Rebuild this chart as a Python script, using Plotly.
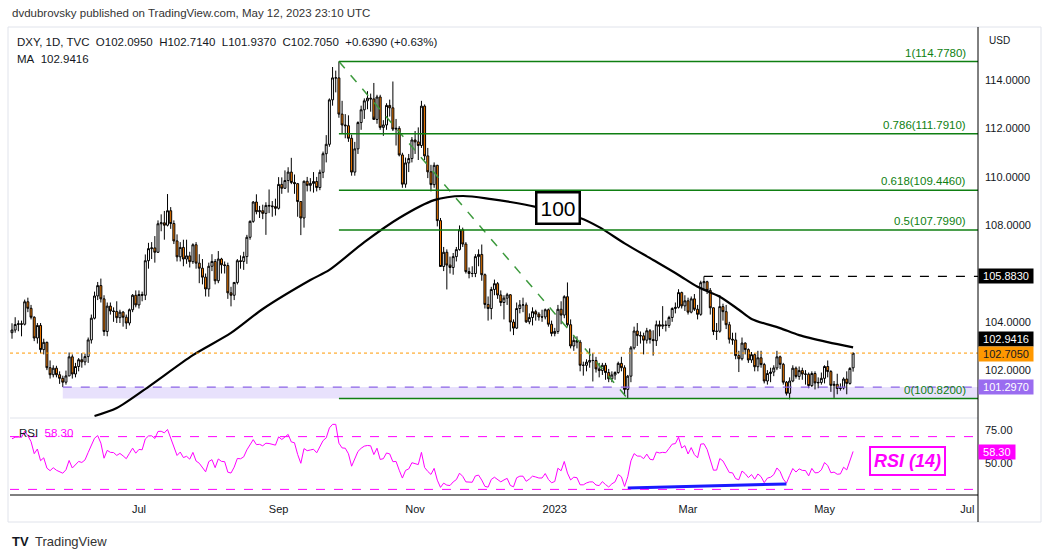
import plotly.graph_objects as go
import pandas as pd

# ---------------- DATA ----------------
# closes before the visible window, only used to warm up RSI(14)
pre_closes = [98.22, 98.49, 98.48, 98.62, 98.79, 98.80, 99.04, 98.41, 97.80, 98.31,
              98.62, 99.01, 99.48, 99.62, 99.80, 99.80, 99.93, 100.31, 99.84, 100.43,
              100.50, 100.94, 100.95, 100.37, 100.60, 101.12, 101.73, 102.35, 102.98, 103.76,
              103.17, 103.74, 103.46, 102.55, 103.58]

# daily candles per month: (open, high, low, close)
may22 = [(103.55, 103.94, 103.30, 103.66), (103.66, 104.19, 103.55, 103.89), (103.89, 104.06, 103.61, 103.92),
         (103.92, 104.05, 103.40, 103.90), (103.90, 104.92, 103.85, 104.83), (104.83, 105.00, 104.40, 104.56),
         (104.56, 104.70, 104.10, 104.19), (104.19, 104.23, 103.20, 103.33), (103.33, 103.95, 103.10, 103.85),
         (103.85, 103.95, 102.70, 102.85), (102.85, 103.30, 102.65, 103.15), (103.15, 103.18, 102.00, 102.10),
         (102.10, 102.40, 101.65, 101.81), (101.81, 102.20, 101.70, 102.08), (102.08, 102.18, 101.70, 101.81),
         (101.81, 101.95, 101.43, 101.66), (101.66, 101.77, 101.30, 101.50), (101.50, 101.98, 101.40, 101.76)]
jun22 = [(101.76, 102.73, 101.75, 102.55), (102.55, 102.65, 101.65, 101.84), (101.84, 102.30, 101.70, 102.15),
         (102.15, 102.50, 101.95, 102.43), (102.43, 102.70, 102.10, 102.34), (102.34, 102.68, 102.20, 102.56),
         (102.56, 103.35, 102.30, 103.25), (103.25, 104.30, 103.10, 104.15), (104.15, 105.25, 104.10, 105.07),
         (105.07, 105.65, 104.90, 105.50), (105.50, 105.79, 104.80, 104.95), (104.95, 105.10, 103.42, 103.60),
         (103.60, 104.80, 103.40, 104.65), (104.65, 104.80, 104.30, 104.45), (104.45, 104.60, 104.00, 104.43),
         (104.43, 104.85, 103.95, 104.17), (104.17, 104.50, 103.95, 104.40), (104.40, 104.45, 103.80, 104.19),
         (104.19, 104.30, 103.70, 103.95), (103.95, 104.55, 103.85, 104.50), (104.50, 105.15, 104.40, 105.10),
         (105.10, 105.30, 104.60, 104.70)]
jul22 = [(104.70, 105.30, 104.55, 105.13), (105.13, 105.25, 104.85, 105.10), (105.10, 106.79, 104.90, 106.53),
         (106.53, 107.27, 106.20, 107.03), (107.03, 107.30, 106.60, 107.06), (107.06, 107.55, 106.45, 106.88),
         (106.88, 108.20, 106.85, 108.06), (108.06, 108.45, 107.75, 108.10), (108.10, 108.59, 107.40, 108.00),
         (108.00, 109.29, 107.95, 108.60), (108.60, 108.75, 107.85, 108.07), (108.07, 108.20, 107.22, 107.35),
         (107.35, 107.62, 106.50, 106.69), (106.69, 107.30, 106.50, 107.08), (107.08, 107.40, 106.30, 106.60),
         (106.60, 107.40, 106.40, 106.73), (106.73, 106.90, 106.25, 106.49), (106.49, 107.25, 106.40, 107.19),
         (107.19, 107.30, 106.20, 106.43), (106.43, 106.80, 105.60, 106.22), (106.22, 106.60, 105.55, 105.85)]
aug22 = [(105.85, 106.00, 105.05, 105.36), (105.36, 106.45, 105.04, 106.30), (106.30, 106.80, 106.10, 106.50),
         (106.50, 106.60, 105.55, 105.70), (105.70, 106.93, 105.60, 106.60), (106.60, 106.65, 106.00, 106.36),
         (106.36, 106.50, 106.00, 106.33), (106.33, 106.45, 104.95, 105.20), (105.20, 105.45, 104.64, 105.10),
         (105.10, 105.65, 104.90, 105.63), (105.63, 106.60, 105.55, 106.53), (106.53, 106.75, 106.20, 106.50),
         (106.50, 106.90, 106.15, 106.70), (106.70, 107.60, 106.40, 107.50), (107.50, 108.20, 107.40, 108.16),
         (108.16, 109.00, 108.10, 108.96), (108.96, 109.28, 108.45, 108.56), (108.56, 108.80, 108.30, 108.60),
         (108.60, 108.85, 108.25, 108.49), (108.49, 108.95, 107.60, 108.82), (108.82, 109.48, 108.50, 108.80),
         (108.80, 109.00, 108.35, 108.77), (108.77, 109.10, 108.40, 108.70)]
sep22 = [(108.70, 109.99, 108.65, 109.69), (109.69, 109.98, 109.30, 109.53), (109.53, 110.27, 109.50, 109.85),
         (109.85, 110.40, 109.35, 110.20), (110.20, 110.79, 109.70, 109.77), (109.77, 110.10, 109.30, 109.72),
         (109.72, 109.75, 108.35, 108.98), (108.98, 109.00, 107.59, 108.30), (108.30, 109.85, 107.90, 109.82),
         (109.82, 110.00, 109.40, 109.65), (109.65, 109.95, 109.40, 109.73), (109.73, 110.20, 109.35, 109.81),
         (109.81, 110.00, 109.40, 109.56), (109.56, 110.30, 109.45, 110.19), (110.19, 111.05, 109.95, 110.96),
         (110.96, 111.73, 110.60, 111.35), (111.35, 113.25, 111.25, 113.19), (113.19, 114.55, 112.95, 114.10),
         (114.10, 114.40, 113.50, 114.10), (114.10, 114.78, 112.45, 112.60), (112.60, 113.15, 111.80, 112.15),
         (112.15, 112.60, 111.60, 112.12)]
oct22 = [(112.12, 112.55, 111.45, 111.60), (111.60, 111.75, 110.05, 110.20), (110.20, 111.45, 110.05, 111.16),
         (111.16, 112.30, 110.95, 112.25), (112.25, 112.95, 111.95, 112.78), (112.78, 113.25, 112.40, 113.15),
         (113.15, 113.55, 112.80, 113.26), (113.26, 113.45, 112.70, 113.23), (113.23, 113.89, 112.50, 112.38),
         (112.38, 113.40, 112.20, 113.31), (113.31, 113.40, 111.95, 112.05), (112.05, 112.35, 111.70, 112.15),
         (112.15, 113.05, 111.95, 112.96), (112.96, 113.20, 112.50, 112.86), (112.86, 113.95, 111.90, 111.98),
         (111.98, 112.40, 111.30, 112.01), (112.01, 112.10, 110.85, 110.91), (110.91, 111.00, 109.55, 109.70),
         (109.70, 110.80, 109.55, 110.58), (110.58, 110.95, 110.20, 110.76), (110.76, 111.65, 110.60, 111.53)]
nov22 = [(111.53, 111.90, 110.95, 111.45), (111.45, 112.05, 110.70, 111.30), (111.30, 113.15, 111.20, 112.93),
         (112.93, 113.00, 110.70, 110.87), (110.87, 111.20, 109.95, 110.21), (110.21, 110.50, 109.40, 109.68),
         (109.68, 110.60, 109.55, 110.48), (110.48, 110.50, 107.95, 108.19), (108.19, 108.30, 106.30, 106.29),
         (106.29, 107.10, 106.10, 106.88), (106.88, 107.00, 105.34, 106.35), (106.35, 106.70, 106.00, 106.25),
         (106.25, 106.85, 105.95, 106.70), (106.70, 107.10, 106.50, 106.99), (106.99, 107.99, 106.95, 107.81),
         (107.81, 107.90, 107.10, 107.22), (107.22, 107.30, 106.00, 106.08), (106.08, 106.25, 105.80, 106.00),
         (106.00, 106.30, 105.85, 106.00), (106.00, 106.80, 105.85, 106.70), (106.70, 107.00, 106.30, 106.79),
         (106.79, 107.20, 105.70, 105.95)]
dec22 = [(105.95, 106.00, 104.55, 104.72), (104.72, 105.05, 104.05, 104.55), (104.55, 105.45, 104.10, 105.34),
         (105.34, 105.75, 105.10, 105.58), (105.58, 105.65, 104.95, 105.11), (105.11, 105.30, 104.65, 104.80),
         (104.80, 105.10, 104.10, 104.98), (104.98, 105.20, 104.70, 105.12), (105.12, 105.15, 103.60, 103.99),
         (103.99, 104.10, 103.45, 103.74), (103.74, 104.80, 103.70, 104.55), (104.55, 104.90, 104.35, 104.70),
         (104.70, 105.00, 104.40, 104.70), (104.70, 104.80, 103.95, 104.00), (104.00, 104.35, 103.90, 104.18),
         (104.18, 104.60, 103.85, 104.42), (104.42, 104.50, 104.05, 104.32), (104.32, 104.40, 104.05, 104.20),
         (104.20, 104.50, 104.00, 104.20), (104.20, 104.55, 104.10, 104.50), (104.50, 104.55, 103.80, 103.90),
         (103.90, 104.05, 103.40, 103.52)]
jan23 = [(103.52, 103.75, 103.40, 103.60), (103.60, 104.70, 103.50, 104.52), (104.52, 104.85, 103.90, 104.28),
         (104.28, 105.10, 104.15, 105.04), (105.04, 105.63, 103.80, 103.88), (103.88, 104.10, 102.90, 103.00),
         (103.00, 103.40, 102.80, 103.23), (103.23, 103.40, 102.90, 103.16), (103.16, 103.25, 101.95, 102.20),
         (102.20, 102.35, 101.77, 102.20), (102.20, 102.45, 101.95, 102.33), (102.33, 102.90, 102.10, 102.40),
         (102.40, 102.70, 101.53, 102.40), (102.40, 102.55, 101.90, 102.05), (102.05, 102.30, 101.70, 101.98),
         (101.98, 102.30, 101.80, 102.20), (102.20, 102.30, 101.60, 101.90), (101.90, 102.05, 101.50, 101.64),
         (101.64, 101.95, 101.50, 101.80), (101.80, 101.95, 101.60, 101.90), (101.90, 102.35, 101.85, 102.28),
         (102.28, 102.55, 101.95, 102.10)]
feb23 = [(102.10, 102.20, 100.95, 101.20), (101.20, 101.80, 100.82, 101.75), (101.75, 103.00, 101.50, 102.92),
         (102.92, 103.80, 102.85, 103.62), (103.62, 103.95, 103.00, 103.43), (103.43, 103.60, 103.10, 103.42),
         (103.42, 103.55, 102.65, 103.24), (103.24, 103.75, 103.10, 103.63), (103.63, 103.70, 103.10, 103.27),
         (103.27, 103.65, 102.60, 103.22), (103.22, 104.05, 103.00, 103.88), (103.88, 104.05, 103.40, 103.82),
         (103.82, 104.65, 103.70, 103.87), (103.87, 104.05, 103.60, 103.85), (103.85, 104.25, 103.75, 104.18),
         (104.18, 104.60, 104.00, 104.55), (104.55, 104.80, 104.35, 104.60), (104.60, 105.35, 104.55, 105.21),
         (105.21, 105.25, 104.55, 104.66), (104.66, 105.10, 104.45, 104.87)]
mar23 = [(104.87, 105.00, 104.30, 104.40), (104.40, 105.05, 104.35, 104.95), (104.95, 105.15, 104.45, 104.52),
         (104.52, 104.70, 104.10, 104.31), (104.31, 105.70, 104.25, 105.62), (105.62, 105.88, 105.30, 105.66),
         (105.66, 105.70, 105.15, 105.30), (105.30, 105.40, 104.30, 104.58), (104.58, 104.60, 103.45, 103.60),
         (103.60, 103.95, 103.25, 103.61), (103.61, 105.11, 103.55, 104.63), (104.63, 104.75, 104.05, 104.42),
         (104.42, 104.70, 103.70, 103.88), (103.88, 104.00, 103.10, 103.28), (103.28, 103.55, 103.05, 103.25),
         (103.25, 103.55, 102.45, 102.60), (102.60, 102.80, 101.92, 102.47), (102.47, 103.35, 102.40, 103.12),
         (103.12, 103.15, 102.65, 102.85), (102.85, 102.90, 102.30, 102.42), (102.42, 102.75, 102.30, 102.64),
         (102.64, 102.70, 101.95, 102.14), (102.14, 102.80, 101.95, 102.51)]
apr23 = [(102.51, 102.80, 102.10, 102.23), (102.23, 102.30, 101.45, 101.55), (101.55, 102.00, 101.40, 101.86),
         (101.86, 102.10, 101.50, 101.92), (101.92, 102.20, 101.75, 102.09), (102.09, 102.80, 102.00, 102.55),
         (102.55, 102.60, 102.05, 102.24), (102.24, 102.30, 101.40, 101.50), (101.50, 101.55, 100.95, 101.04),
         (101.04, 101.70, 100.79, 101.55), (101.55, 102.20, 101.50, 102.08), (102.08, 102.15, 101.65, 101.74),
         (101.74, 102.15, 101.60, 101.98), (101.98, 102.10, 101.60, 101.84), (101.84, 102.00, 101.40, 101.83),
         (101.83, 101.90, 101.25, 101.36), (101.36, 101.95, 101.30, 101.86), (101.86, 101.95, 101.20, 101.47),
         (101.47, 101.70, 101.25, 101.49), (101.49, 101.90, 101.40, 101.66)]
may23 = [(101.66, 102.20, 101.45, 102.15), (102.15, 102.40, 101.70, 101.94), (101.94, 102.00, 101.10, 101.37),
         (101.37, 101.55, 100.85, 101.41), (101.41, 101.85, 101.00, 101.24), (101.24, 101.45, 101.15, 101.26),
         (101.26, 101.70, 101.20, 101.63), (101.63, 101.95, 101.00, 101.45), (101.45, 102.12, 101.40, 102.07),
         (102.095, 102.714, 101.937, 102.705)]

month_starts = ["2022-05-06", "2022-06-01", "2022-07-01", "2022-08-01", "2022-09-01", "2022-10-03",
                "2022-11-01", "2022-12-01", "2023-01-02", "2023-02-01", "2023-03-01", "2023-04-03",
                "2023-05-01"]
month_rows = [may22, jun22, jul22, aug22, sep22, oct22, nov22, dec22, jan23, feb23, mar23, apr23, may23]

# 100-day moving average
ma_dates = ["2022-06-13", "2022-06-22", "2022-07-06", "2022-07-26", "2022-08-11", "2022-08-25",
            "2022-09-15", "2022-09-23", "2022-10-10", "2022-10-25", "2022-11-09", "2022-11-22",
            "2022-12-05", "2022-12-13", "2022-12-23", "2023-01-12", "2023-01-20", "2023-02-01",
            "2023-02-14", "2023-02-24", "2023-03-06", "2023-03-15", "2023-03-23", "2023-03-29",
            "2023-04-11", "2023-04-19", "2023-05-02", "2023-05-12"]
ma_vals = [100.10, 100.43, 101.31, 102.62, 103.54, 104.53,
           105.73, 106.15, 107.30, 108.30, 109.04, 109.21,
           109.08, 108.96, 108.76, 108.30, 107.92, 107.25,
           106.56, 105.94, 105.45, 105.04, 104.50, 104.12,
           103.74, 103.45, 103.16, 102.9416]

fib_ratios = [1, 0.786, 0.618, 0.5, 0]
fib_levels = [114.778, 111.791, 109.446, 107.799, 100.820]
fib_start = "2022-09-28"
swing_high = ("2022-09-28", 114.778)
swing_low = ("2023-02-02", 100.820)

support_level = 101.297
support_start = "2022-05-30"
resistance_level = 105.883
resistance_start = "2023-03-08"
last_price = 102.705
ma_last = 102.9416
rsi_last = 58.30

rsi_div_dates = ["2023-02-02", "2023-04-13"]
rsi_div_vals = [31.1, 34.1]

tick_dates = ["2022-07-01", "2022-09-01", "2022-11-01", "2023-01-02", "2023-03-01", "2023-05-01", "2023-07-03"]
tick_text = ["Jul", "Sep", "Nov", "2023", "Mar", "May", "Jul"]
price_ticks = [102, 104, 108, 110, 112, 114]
rsi_ticks = [75, 50]

# ---------------- BUILD ----------------
HALF = pd.Timedelta(hours=12)   # centre each daily bar inside its weekday slot


def d(s):
    return pd.Timestamp(s) + HALF


dates, O, H, L, C = [], [], [], [], []
for start, rows in zip(month_starts, month_rows):
    ds = pd.bdate_range(start, periods=len(rows))
    for dt, (o, h, l, c) in zip(ds, rows):
        dates.append(dt + HALF)
        O.append(o); H.append(h); L.append(l); C.append(c)


def wilder_rsi(vals, n=14):
    out = [None] * len(vals)
    gains = [max(vals[i] - vals[i - 1], 0) for i in range(1, len(vals))]
    losses = [max(vals[i - 1] - vals[i], 0) for i in range(1, len(vals))]
    ag = sum(gains[:n]) / n
    al = sum(losses[:n]) / n
    out[n] = 100 - 100 / (1 + ag / al) if al > 0 else 100
    for i in range(n + 1, len(vals)):
        ag = (ag * (n - 1) + gains[i - 1]) / n
        al = (al * (n - 1) + losses[i - 1]) / n
        out[i] = 100 - 100 / (1 + ag / al) if al > 0 else 100
    return out


rsi = wilder_rsi(pre_closes + C)[len(pre_closes):]

FONT = "Liberation Sans, Arial, sans-serif"
TXT = "#131722"
GREEN = "#0f7f12"
MAG = "#ff00ff"
ORANGE = "#ff9800"
PURPLE = "#9a6cf0"

X0 = "2022-05-05 20:53:00"
X1 = "2023-07-06 20:24:00"

fig = go.Figure()
fig.add_trace(go.Candlestick(
    x=dates, open=O, high=H, low=L, close=C, xaxis="x", yaxis="y",
    increasing=dict(line=dict(color="black", width=1), fillcolor="white"),
    decreasing=dict(line=dict(color="black", width=1), fillcolor="#ff8000"),
    whiskerwidth=0, hoverinfo="skip"))
fig.add_trace(go.Scatter(
    x=[d(s) for s in ma_dates], y=ma_vals, mode="lines", xaxis="x", yaxis="y",
    line=dict(color="black", width=2.2, shape="spline", smoothing=0.8), hoverinfo="skip"))
fig.add_trace(go.Scatter(
    x=[d(swing_high[0]), d(swing_low[0])], y=[swing_high[1], swing_low[1]], mode="lines",
    xaxis="x", yaxis="y", line=dict(color="#3d9a3d", width=1.5, dash="dash"), hoverinfo="skip"))
fig.add_trace(go.Scatter(
    x=dates, y=rsi, mode="lines", xaxis="x", yaxis="y2",
    line=dict(color=MAG, width=1), hoverinfo="skip"))
fig.add_trace(go.Scatter(
    x=[d(s) for s in rsi_div_dates], y=rsi_div_vals, mode="lines", xaxis="x", yaxis="y2",
    line=dict(color="#1a1aff", width=3), hoverinfo="skip"))

shapes = []
# support zone
shapes.append(dict(type="rect", xref="x", yref="y", x0=d(support_start), x1=X1,
                   y0=fib_levels[-1], y1=support_level, fillcolor="rgba(149,117,240,0.22)",
                   line=dict(width=0), layer="below"))
shapes.append(dict(type="line", xref="x", yref="y", x0=d(support_start), x1=X1,
                   y0=support_level, y1=support_level, line=dict(color="#8c64e6", width=1.3, dash="dash")))
# fibonacci levels
for lv in fib_levels:
    shapes.append(dict(type="line", xref="x", yref="y", x0=d(fib_start), x1=X1, y0=lv, y1=lv,
                       line=dict(color=GREEN, width=1.5)))
# resistance
shapes.append(dict(type="line", xref="x", yref="y", x0=d(resistance_start), x1=X1,
                   y0=resistance_level, y1=resistance_level, line=dict(color="black", width=1.3, dash="dash")))
# last price
shapes.append(dict(type="line", xref="paper", yref="y", x0=0, x1=1, y0=last_price, y1=last_price,
                   line=dict(color=ORANGE, width=1, dash="dot")))
# RSI bands
for lv in (70, 30):
    shapes.append(dict(type="line", xref="paper", yref="y2", x0=0, x1=1, y0=lv, y1=lv,
                       line=dict(color=MAG, width=1, dash="dash")))


def px_x(X):
    return (X - 10) / 968.0


def px_y(Y):
    return (495 - Y) / 468.0


# frame lines
shapes.append(dict(type="rect", xref="paper", yref="paper", x0=px_x(8), x1=px_x(1041),
                   y0=px_y(522), y1=px_y(27), line=dict(color="#e0e3eb", width=1)))
shapes.append(dict(type="line", xref="paper", yref="paper", x0=0, x1=1, y0=px_y(418), y1=px_y(418),
                   line=dict(color="#e0e3eb", width=1)))
shapes.append(dict(type="line", xref="paper", yref="paper", x0=0, x1=1, y0=0, y1=0,
                   line=dict(color="black", width=1)))
shapes.append(dict(type="line", xref="paper", yref="paper", x0=1, x1=1, y0=px_y(522), y1=1,
                   line=dict(color="black", width=1)))

ann = []
ann.append(dict(xref="paper", yref="paper", x=px_x(10), y=px_y(13), xanchor="left", yanchor="middle",
                text="dvdubrovsky published on TradingView.com, May 12, 2023 23:10 UTC",
                showarrow=False, font=dict(family=FONT, size=11.5, color="#333333")))
ann.append(dict(xref="paper", yref="paper", x=px_x(15), y=px_y(42), xanchor="left", yanchor="middle",
                text="DXY, 1D, TVC&nbsp;&nbsp;O102.0950&nbsp;&nbsp;H102.7140&nbsp;&nbsp;L101.9370&nbsp;&nbsp;"
                     "C102.7050&nbsp;&nbsp;+0.6390 (+0.63%)",
                showarrow=False, font=dict(family=FONT, size=11.5, color=TXT)))
ann.append(dict(xref="paper", yref="paper", x=px_x(15), y=px_y(59), xanchor="left", yanchor="middle",
                text="MA&nbsp;&nbsp;102.9416", showarrow=False, font=dict(family=FONT, size=11.5, color=TXT)))
ann.append(dict(xref="paper", yref="paper", x=px_x(987), y=px_y(40), xanchor="left", yanchor="middle",
                text="USD", showarrow=False, font=dict(family=FONT, size=10, color=TXT)))
for r, lv in zip(fib_ratios, fib_levels):
    ann.append(dict(xref="paper", yref="y", x=px_x(968), y=lv, xanchor="right", yanchor="bottom",
                    yshift=1, text=f"{r}({lv:.4f})", showarrow=False,
                    font=dict(family=FONT, size=11.5, color=GREEN)))


def tag(y, text, bg, fg, yref="y", yshift=0):
    return dict(xref="paper", yref=yref, x=1, y=y, xanchor="left", yanchor="middle", yshift=yshift,
                text=f"&nbsp;{text}&nbsp;", showarrow=False, bgcolor=bg, borderpad=1,
                font=dict(family=FONT, size=11, color=fg))


ann.append(tag(resistance_level, f"{resistance_level:.4f}", "black", "white"))
ann.append(tag(ma_last, f"{ma_last:.4f}", "black", "white", yshift=8))
ann.append(tag(last_price, f"{last_price:.4f}", ORANGE, TXT, yshift=-1))
ann.append(tag(support_level, f"{support_level:.4f}", PURPLE, "white"))
ann.append(tag(rsi_last, f"{rsi_last:.2f}", MAG, "white", yref="y2"))

ann.append(dict(xref="x", yref="y", x=d("2023-01-03"), y=108.7, xanchor="center", yanchor="middle",
                text="100", showarrow=False, bgcolor="white", bordercolor="black", borderwidth=2.5,
                borderpad=3, font=dict(family=FONT, size=21, color="black")))
ann.append(dict(xref="paper", yref="y2", x=px_x(907), y=51.5, xanchor="center", yanchor="middle",
                text="<b><i>RSI (14)</i></b>", showarrow=False, bgcolor="white", bordercolor=MAG,
                borderwidth=2, borderpad=3, font=dict(family=FONT, size=18, color=MAG)))
ann.append(dict(xref="paper", yref="y2", x=px_x(17), y=72.7, xanchor="left", yanchor="middle",
                text=f"RSI&nbsp;&nbsp;<span style='color:{MAG}'>{rsi_last:.2f}</span>", showarrow=False,
                font=dict(family=FONT, size=11.5, color=TXT)))
ann.append(dict(xref="paper", yref="paper", x=px_x(10), y=px_y(541), xanchor="left", yanchor="middle",
                text="<b>TV</b>", showarrow=False, font=dict(family=FONT, size=13, color="#131722")))
ann.append(dict(xref="paper", yref="paper", x=px_x(33), y=px_y(541), xanchor="left", yanchor="middle",
                text="TradingView", showarrow=False, font=dict(family=FONT, size=13, color="#333333")))

fig.update_layout(
    width=1050, height=558, margin=dict(l=10, r=72, t=27, b=63),
    paper_bgcolor="white", plot_bgcolor="white", showlegend=False, hovermode=False,
    boxgap=0.12,
    xaxis=dict(type="date", range=[X0, X1], rangebreaks=[dict(bounds=["sat", "mon"])],
               tickvals=[d(s) for s in tick_dates], ticktext=tick_text, showgrid=False, zeroline=False,
               showline=False, ticks="", ticklabelstandoff=6, anchor="y2",
               tickfont=dict(family=FONT, size=11, color=TXT), rangeslider=dict(visible=False),
               fixedrange=True),
    yaxis=dict(domain=[0.1645, 1], range=[100.017, 116.207], side="right", anchor="x",
               tickvals=price_ticks, ticktext=[f"{v:.4f}" for v in price_ticks], showgrid=False,
               zeroline=False, showline=False, ticks="", ticklabelstandoff=6,
               tickfont=dict(family=FONT, size=11, color=TXT), fixedrange=True),
    yaxis2=dict(domain=[0, 0.1645], range=[25.76, 84.09], side="right", anchor="x",
                tickvals=rsi_ticks, ticktext=[f"{v:.2f}" for v in rsi_ticks], showgrid=False,
                zeroline=False, showline=False, ticks="", ticklabelstandoff=6,
                tickfont=dict(family=FONT, size=11, color=TXT), fixedrange=True),
    shapes=shapes, annotations=ann,
)

fig.write_html("out.html", config={"displayModeBar": False},
               post_script="document.body.style.margin='0';")
